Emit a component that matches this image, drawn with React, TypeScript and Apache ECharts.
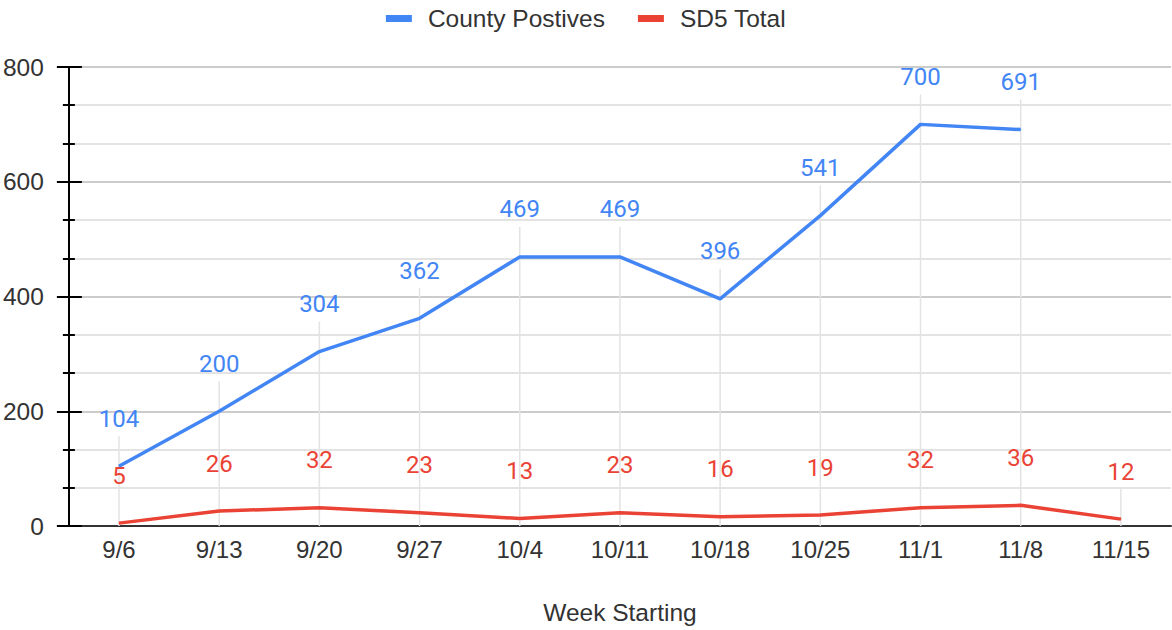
import React, { useEffect, useRef } from "react";
import * as echarts from "echarts";

const categories = ["9/6", "9/13", "9/20", "9/27", "10/4", "10/11", "10/18", "10/25", "11/1", "11/8", "11/15"];
const countyPositives: (number | null)[] = [104, 200, 304, 362, 469, 469, 396, 541, 700, 691, null];
const sd5Total: number[] = [5, 26, 32, 23, 13, 23, 16, 19, 32, 36, 12];
const yTicks = [0, 200, 400, 600, 800];

const BLUE = "#4285F4";
const RED = "#EA4335";

export default function App() {
  const ref = useRef<HTMLDivElement>(null);
  useEffect(() => {
    if (!ref.current) return;
    const chart = echarts.init(ref.current, undefined, { renderer: "svg" });
    const leaderData = categories.map((_, i) => [i, Math.max(countyPositives[i] ?? 0, sd5Total[i])]);
    const axisFont = "Arial, 'Liberation Sans', sans-serif";
    const labelFont = "Roboto, Arial, sans-serif";
    chart.setOption({
      animation: false,
      backgroundColor: "#ffffff",
      legend: {
        top: 1,
        left: "center",
        icon: "rect",
        itemWidth: 26,
        itemHeight: 7,
        itemGap: 33,
        textStyle: { fontSize: 24.5, color: "#333", fontFamily: axisFont, padding: [0, 0, 0, 11] },
        data: ["County Postives", "SD5 Total"],
      },
      grid: { left: 68, right: 1, top: 67, bottom: 97 },
      xAxis: {
        type: "category",
        data: categories,
        boundaryGap: true,
        axisLine: { lineStyle: { color: "#333", width: 2 } },
        axisTick: { show: false },
        axisLabel: { fontSize: 24, color: "#333", fontFamily: axisFont, margin: 11 },
        splitLine: { show: false },
        name: "Week Starting",
        nameLocation: "middle",
        nameGap: 74,
        nameTextStyle: { fontSize: 24.5, color: "#333", fontFamily: axisFont },
      },
      yAxis: [
        {
          type: "value",
          min: yTicks[0],
          max: yTicks[yTicks.length - 1],
          interval: 200,
          axisLine: { show: true, lineStyle: { color: "#000", width: 2 } },
          axisTick: { show: true, length: 12, lineStyle: { color: "#000", width: 2 } },
          minorTick: { show: true, splitNumber: 3, length: 6, lineStyle: { color: "#000", width: 2 } },
          axisLabel: { fontSize: 24.5, color: "#333", fontFamily: axisFont, margin: 25 },
          splitLine: { show: true, lineStyle: { color: "#cccccc", width: 2 } },
          minorSplitLine: { show: true, lineStyle: { color: "#e3e3e3", width: 2 } },
        },
        {
          type: "value",
          min: yTicks[0],
          max: yTicks[yTicks.length - 1],
          interval: 200,
          position: "left",
          axisLine: { show: true, onZero: false, lineStyle: { color: "#000", width: 2 } },
          axisTick: { show: true, inside: true, length: 13, lineStyle: { color: "#000", width: 2 } },
          minorTick: { show: true, splitNumber: 3, length: 6, lineStyle: { color: "#000", width: 2 } },
          axisLabel: { show: false },
          splitLine: { show: false },
        },
      ],
      series: [
        {
          type: "custom",
          name: "leaders",
          silent: true,
          z: 1,
          data: leaderData,
          renderItem: (params: any, api: any) => {
            const p0 = api.coord([api.value(0), 0]);
            const p1 = api.coord([api.value(0), api.value(1)]);
            return {
              type: "line",
              shape: { x1: p0[0], y1: p0[1], x2: p1[0], y2: p1[1] - 30 },
              style: { stroke: "#e3e3e3", lineWidth: 1.5 },
            };
          },
        },
        {
          name: "County Postives",
          type: "line",
          data: countyPositives,
          z: 3,
          color: BLUE,
          showSymbol: true,
          symbol: "circle",
          symbolSize: 1,
          lineStyle: { color: BLUE, width: 3.5 },
          label: {
            show: true,
            position: "top",
            distance: 35,
            fontSize: 24,
            color: BLUE,
            fontFamily: labelFont,
          },
        },
        {
          name: "SD5 Total",
          type: "line",
          data: sd5Total,
          z: 3,
          color: RED,
          showSymbol: true,
          symbol: "circle",
          symbolSize: 1,
          lineStyle: { color: RED, width: 3.5 },
          label: {
            show: true,
            position: "top",
            distance: 35,
            fontSize: 24,
            color: RED,
            fontFamily: labelFont,
          },
        },
      ],
    });
    return () => chart.dispose();
  }, []);
  return (
    <div
      ref={ref}
      style={{ position: "fixed", left: 0, top: 0, width: 1172, height: 630, background: "#fff" }}
    />
  );
}
